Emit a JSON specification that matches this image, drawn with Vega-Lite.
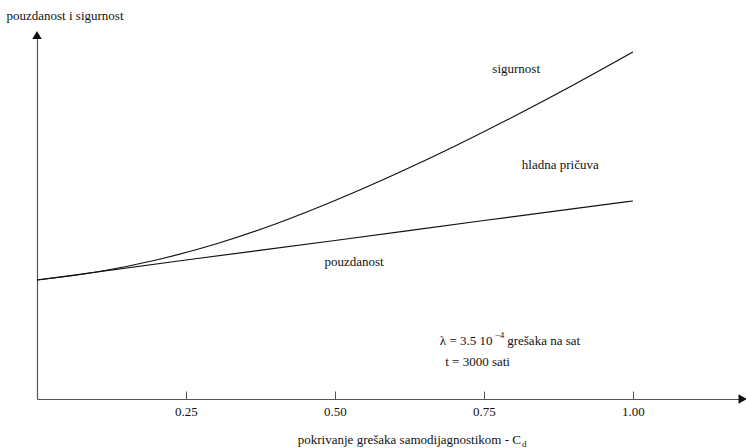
{
  "$schema": "https://vega.github.io/schema/vega-lite/v6.json",
  "width": 708,
  "height": 364,
  "autosize": "none",
  "padding": {"left": 37, "top": 35, "right": 1, "bottom": 49},
  "background": "white",
  "config": {
    "view": {"stroke": null},
    "font": "'Liberation Serif', 'Times New Roman', Times, 'DejaVu Serif', serif",
    "text": {"font": "'Liberation Serif', 'Times New Roman', Times, 'DejaVu Serif', serif", "fontSize": 13, "color": "#111"}
  },
  "datasets": {
    "curves": [
      {"series": "sigurnost", "x": 0, "y": 119},
      {"series": "sigurnost", "x": 0.1, "y": 127},
      {"series": "sigurnost", "x": 0.2, "y": 139},
      {"series": "sigurnost", "x": 0.3, "y": 155},
      {"series": "sigurnost", "x": 0.4, "y": 175},
      {"series": "sigurnost", "x": 0.5, "y": 198.5},
      {"series": "sigurnost", "x": 0.6, "y": 224.5},
      {"series": "sigurnost", "x": 0.7, "y": 252.5},
      {"series": "sigurnost", "x": 0.8, "y": 282.5},
      {"series": "sigurnost", "x": 0.9, "y": 314},
      {"series": "sigurnost", "x": 1.0, "y": 347},
      {"series": "pouzdanost", "x": 0, "y": 119},
      {"series": "pouzdanost", "x": 0.25, "y": 139},
      {"series": "pouzdanost", "x": 0.5, "y": 158.5},
      {"series": "pouzdanost", "x": 0.75, "y": 178.5},
      {"series": "pouzdanost", "x": 1.0, "y": 198}
    ],
    "labels": [
      {"x": 0.804, "y": 330, "text": "sigurnost"},
      {"x": 0.878, "y": 234, "text": "hladna pričuva"},
      {"x": 0.532, "y": 137, "text": "pouzdanost"}
    ],
    "leftLabels": [
      {"x": 0.676, "y": 58, "text": "λ = 3.5 10"},
      {"x": 0.789, "y": 58, "text": "grešaka na sat"},
      {"x": 0.685, "y": 37, "text": "t = 3000 sati"}
    ],
    "superscripts": [
      {"x": 0.768, "y": 64, "text": "−4"}
    ],
    "xTitle": [
      {"x": 0.812, "y": -41, "text": "pokrivanje grešaka samodijagnostikom  - C"}
    ],
    "subscripts": [
      {"x": 0.814, "y": -45, "text": "d"}
    ],
    "arrowUp": [{"x": 0, "y": 364}],
    "arrowRight": [{"x": 1.184, "y": 0}]
  },
  "layer": [
    {
      "data": {"name": "curves"},
      "mark": {"type": "line", "interpolate": "monotone", "color": "#111", "strokeWidth": 1.2},
      "encoding": {
        "x": {
          "field": "x", "type": "quantitative",
          "scale": {"domain": [0, 1.188], "nice": false, "zero": false},
          "axis": {
            "values": [0.25, 0.5, 0.75, 1.0],
            "format": ".2f",
            "grid": false,
            "domainColor": "#555",
            "domainWidth": 1.2,
            "tickColor": "#555",
            "tickSize": -8,
            "tickWidth": 1,
            "labelPadding": 14,
            "labelFont": "'Liberation Serif', 'Times New Roman', Times, 'DejaVu Serif', serif",
            "labelFontSize": 13,
            "labelColor": "#111",
            "title": null
          }
        },
        "y": {
          "field": "y", "type": "quantitative",
          "scale": {"domain": [0, 364], "nice": false},
          "axis": {
            "grid": false,
            "ticks": false,
            "labels": false,
            "domainColor": "#555",
            "domainWidth": 1.2,
            "title": "pouzdanost i sigurnost",
            "titleAngle": 0,
            "titleAlign": "left",
            "titleBaseline": "middle",
            "titleX": -31,
            "titleY": -20,
            "titleFont": "'Liberation Serif', 'Times New Roman', Times, 'DejaVu Serif', serif",
            "titleFontSize": 13,
            "titleFontWeight": "normal",
            "titleColor": "#111"
          }
        },
        "detail": {"field": "series"}
      }
    },
    {
      "data": {"name": "labels"},
      "mark": {"type": "text", "align": "center", "baseline": "middle"},
      "encoding": {
        "x": {"field": "x", "type": "quantitative"},
        "y": {"field": "y", "type": "quantitative"},
        "text": {"field": "text"}
      }
    },
    {
      "data": {"name": "leftLabels"},
      "mark": {"type": "text", "align": "left", "baseline": "middle"},
      "encoding": {
        "x": {"field": "x", "type": "quantitative"},
        "y": {"field": "y", "type": "quantitative"},
        "text": {"field": "text"}
      }
    },
    {
      "data": {"name": "superscripts"},
      "mark": {"type": "text", "align": "left", "baseline": "middle", "fontSize": 9},
      "encoding": {
        "x": {"field": "x", "type": "quantitative"},
        "y": {"field": "y", "type": "quantitative"},
        "text": {"field": "text"}
      }
    },
    {
      "data": {"name": "xTitle"},
      "mark": {"type": "text", "align": "right", "baseline": "middle"},
      "encoding": {
        "x": {"field": "x", "type": "quantitative"},
        "y": {"field": "y", "type": "quantitative"},
        "text": {"field": "text"}
      }
    },
    {
      "data": {"name": "subscripts"},
      "mark": {"type": "text", "align": "left", "baseline": "middle", "fontSize": 9},
      "encoding": {
        "x": {"field": "x", "type": "quantitative"},
        "y": {"field": "y", "type": "quantitative"},
        "text": {"field": "text"}
      }
    },
    {
      "data": {"name": "arrowUp"},
      "mark": {"type": "point", "shape": "triangle-up", "filled": true, "color": "#111", "size": 90, "opacity": 1},
      "encoding": {
        "x": {"field": "x", "type": "quantitative"},
        "y": {"field": "y", "type": "quantitative"}
      }
    },
    {
      "data": {"name": "arrowRight"},
      "mark": {"type": "point", "shape": "triangle-right", "filled": true, "color": "#111", "size": 90, "opacity": 1},
      "encoding": {
        "x": {"field": "x", "type": "quantitative"},
        "y": {"field": "y", "type": "quantitative"}
      }
    }
  ]
}
